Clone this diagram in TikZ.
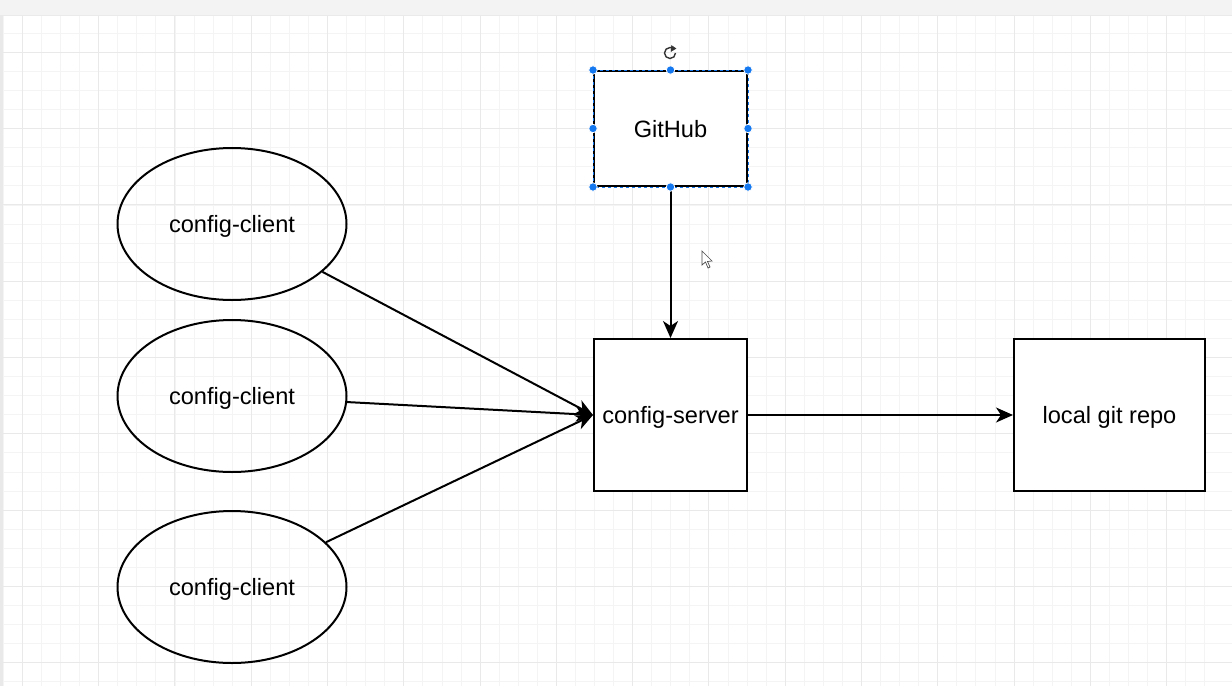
\documentclass[tikz,border=0pt]{standalone}
\usepackage{fontspec}
\setmainfont{Liberation Sans}
\usetikzlibrary{shapes.geometric,arrows.meta}
\definecolor{GridMinor}{RGB}{244,244,244}
\definecolor{GridMajor}{RGB}{233,233,233}
\definecolor{BarGrey}{RGB}{243,243,243}
\definecolor{HandleBlue}{RGB}{20,120,240}

\tikzset{
	clientnode/.style={draw, ellipse, line width=2pt, minimum width=229pt, minimum height=152pt, inner sep=0pt, text height=20pt, text depth=2.4pt, font=\fontsize{23.6}{28}\selectfont},
	boxnode/.style={draw, rectangle, line width=2pt, inner sep=0pt, text height=20pt, text depth=2.4pt, font=\fontsize{23.6}{28}\selectfont},
	flow/.style={line width=2pt, -{Stealth[length=17pt, width=15pt, inset=5pt]}},
	handle/.style={circle, fill=HandleBlue, draw=white, line width=0.8pt, inner sep=0pt, minimum size=8.5pt}
}

\begin{document}
\begin{tikzpicture}[x=1pt,y=1pt,yscale=-1,xscale=1]
		% Canvas, picture is 1232 wide and 686 high
		\useasboundingbox (0,0) rectangle (1232,686);
		\fill[white] (0,0) rectangle (1232,686);

		% Minor grid lines
		\foreach \k in {0,...,63} {
			\draw[GridMinor, line width=0.8pt] (3.3+19.07*\k,15) -- (3.3+19.07*\k,686);
		}
		\foreach \k in {0,...,34} {
			\draw[GridMinor, line width=0.8pt] (3,33.3+19.07*\k) -- (1232,33.3+19.07*\k);
		}

		% Major grid lines
		\foreach \k in {0,...,15} {
			\draw[GridMajor, line width=0.8pt] (22.3+76.28*\k,15) -- (22.3+76.28*\k,686);
		}
		\foreach \k in {0,...,8} {
			\draw[GridMajor, line width=0.8pt] (3,52.3+76.28*\k) -- (1232,52.3+76.28*\k);
		}

		% Toolbar strip at the top and the edge on the left
		\fill[BarGrey] (0,0) rectangle (1232,15);
		\draw[GridMajor!80!black!30, line width=1pt] (0,15) -- (1232,15);
		\fill[GridMajor] (0,15) rectangle (3,686);

		% The three clients
		\node[clientnode] (client1) at (232,224) {config-client};
		\node[clientnode] (client2) at (232,396) {config-client};
		\node[clientnode] (client3) at (232,587) {config-client};

		% The server, the remote and the local repository
		\node[boxnode, minimum width=153pt, minimum height=152pt, fill=white] (server) at (670.5,415) {config-server};
		\node[boxnode, minimum width=153pt, minimum height=115pt, fill=white] (github) at (670.5,128.5) {GitHub};
		\node[boxnode, minimum width=191pt, minimum height=152pt, fill=white] (repo) at (1109.5,415) {local git repo};

		% Arrows into and out of the server
		\draw[flow] (client1) -- (server.west);
		\draw[flow] (client2) -- (server.west);
		\draw[flow] (client3) -- (server.west);
		\draw[flow] (github) -- (server);
		\draw[flow] (server) -- (repo);

		% Selection frame and handles on GitHub
		\draw[HandleBlue, dashed, line width=0.7pt, dash pattern=on 3pt off 3pt] (github.north west) rectangle (github.south east);
		\foreach \a in {north west,north,north east,east,south east,south,south west,west} {
			\node[handle] at (github.\a) {};
		}

		% Rotate mark above the selection
		\draw[black!80, line width=1.4pt] (675.5,53) arc[start angle=0, end angle=300, radius=5.5pt];
		\draw[black!80, fill=black!80] (671.5,45.5) -- (676,48.5) -- (671,51.5) -- cycle;

		% Mouse pointer
		\draw[black!70, fill=white, line width=0.7pt] (702,251) -- (702,265) -- (705.5,262) -- (708,268) -- (710,267) -- (707.5,261.5) -- (712,261) -- cycle;
	\end{tikzpicture}
\end{document}
